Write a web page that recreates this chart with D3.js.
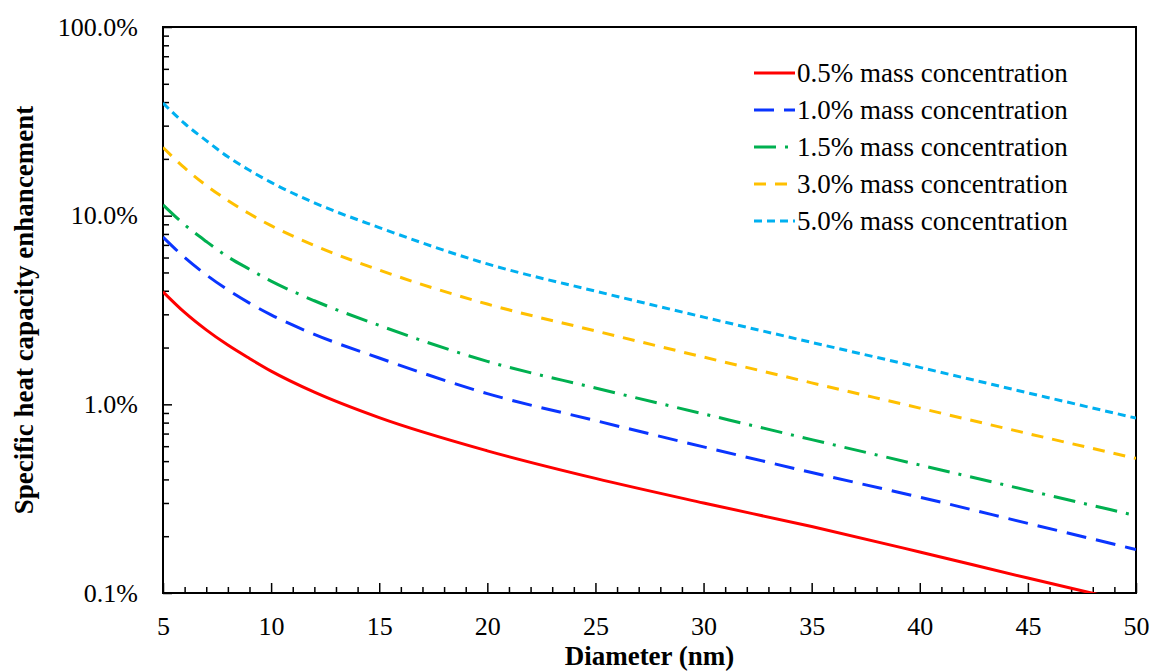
<!DOCTYPE html>
<html lang="en">
	<head>
		<meta charset="UTF-8" />
		<title>Specific heat capacity enhancement</title>
		<style>
			body { margin: 0; background: #fff; }
			svg text { font-family: "Liberation Serif", "Times New Roman", serif; fill: #000; }
		</style>
	</head>
	<body>
		<div id="chart"></div>
		<script src="https://d3js.org/d3.v7.min.js"></script>
		<script>
			const width = 1151;
			const height = 672;

			// diameter (nm)
			const diameters = [5, 6, 7, 8, 9, 10, 12, 15, 20, 25, 30, 35, 40, 45, 50];
			// enhancement in %
			const conc05 = [3.95, 3.07, 2.48, 2.06, 1.75, 1.5, 1.16, 0.85, 0.567, 0.405, 0.30, 0.225, 0.165, 0.12, 0.088];
			const conc10 = [7.7, 6.0, 4.86, 4.04, 3.44, 2.98, 2.35, 1.76, 1.14, 0.82, 0.595, 0.435, 0.322, 0.234, 0.17];
			const conc15 = [11.4, 8.95, 7.3, 6.05, 5.2, 4.5, 3.54, 2.62, 1.69, 1.22, 0.89, 0.65, 0.477, 0.35, 0.257];
			const conc30 = [23, 17.9, 14.46, 12.03, 10.23, 8.85, 6.95, 5.15, 3.4, 2.45, 1.78, 1.3, 0.955, 0.7, 0.517];
			const conc50 = [39.5, 30.8, 25.0, 20.5, 17.4, 15.0, 11.7, 8.65, 5.55, 3.98, 2.9, 2.13, 1.57, 1.15, 0.845];

			const seriesNames = [
				"0.5% mass concentration",
				"1.0% mass concentration",
				"1.5% mass concentration",
				"3.0% mass concentration",
				"5.0% mass concentration",
			];
			const seriesValues = [conc05, conc10, conc15, conc30, conc50];
			const colors = ["#ff0000", "#0a35ff", "#00b050", "#ffc000", "#00b0f0"];
			const dashes = [null, "20,10", "22,9,3,9", "12,9", "8,5"];

			const xTicks = [5, 10, 15, 20, 25, 30, 35, 40, 45, 50];
			const yTicks = [0.1, 1, 10, 100];

			const plotLeft = 163, plotRight = 1136, plotTop = 27, plotBottom = 593;

			const x = d3.scaleLinear().domain([5, 50]).range([plotLeft, plotRight]);
			const y = d3.scaleLog().domain([0.1, 100]).range([plotBottom, plotTop]);

			const svg = d3
				.select("#chart")
				.append("svg")
				.attr("width", width)
				.attr("height", height);

			svg.append("clipPath")
				.attr("id", "plotclip")
				.append("rect")
				.attr("x", plotLeft)
				.attr("y", plotTop)
				.attr("width", plotRight - plotLeft)
				.attr("height", plotBottom - plotTop);

			// minor ticks
			const xMinor = d3.range(6, 50).filter((d) => d % 5 !== 0);
			svg.append("g")
				.attr("transform", `translate(0,${plotBottom})`)
				.call(d3.axisBottom(x).tickValues(xMinor).tickSize(-6).tickFormat(""))
				.call((g) => g.select(".domain").remove())
				.selectAll("line").attr("stroke-width", 1.5);

			const yMinor = [];
			[0.1, 1, 10].forEach((dec) => {
				for (let k = 2; k <= 9; k++) yMinor.push(dec * k);
			});
			svg.append("g")
				.attr("transform", `translate(${plotLeft},0)`)
				.call(d3.axisLeft(y).tickValues(yMinor).tickSize(-6).tickFormat(""))
				.call((g) => g.select(".domain").remove())
				.selectAll("line").attr("stroke-width", 1.5);

			// major axes
			const xAxis = svg.append("g")
				.attr("transform", `translate(0,${plotBottom})`)
				.call(d3.axisBottom(x).tickValues(xTicks).tickSize(-10).tickPadding(23.5));
			xAxis.select(".domain").remove();
			xAxis.selectAll("line").attr("stroke-width", 1.5);
			xAxis.selectAll("text").attr("font-size", 26).style("font-family", "Liberation Serif");

			const yAxis = svg.append("g")
				.attr("transform", `translate(${plotLeft},0)`)
				.call(
					d3.axisLeft(y)
						.tickValues(yTicks)
						.tickSize(-9)
						.tickPadding(25)
						.tickFormat((d) => d.toFixed(1) + "%")
				);
			yAxis.select(".domain").remove();
			yAxis.selectAll("line").attr("stroke-width", 1.5);
			yAxis.selectAll("text").attr("font-size", 26).style("font-family", "Liberation Serif");

			// frame
			svg.append("rect")
				.attr("x", plotLeft)
				.attr("y", plotTop)
				.attr("width", plotRight - plotLeft)
				.attr("height", plotBottom - plotTop)
				.attr("fill", "none")
				.attr("stroke", "#000")
				.attr("stroke-width", 2);

			// lines
			const line = d3
				.line()
				.x((d) => x(d[0]))
				.y((d) => y(d[1]))
				.curve(d3.curveMonotoneX);

			svg.append("g")
				.attr("clip-path", "url(#plotclip)")
				.selectAll("path")
				.data(seriesValues)
				.enter()
				.append("path")
				.attr("d", (vals) => line(diameters.map((d, i) => [d, vals[i]])))
				.attr("fill", "none")
				.attr("stroke", (d, i) => colors[i])
				.attr("stroke-width", 3)
				.attr("stroke-dasharray", (d, i) => dashes[i]);

			// legend
			const legend = svg.append("g").attr("transform", "translate(754,73)");
			const rows = legend
				.selectAll("g")
				.data(seriesNames)
				.enter()
				.append("g")
				.attr("transform", (d, i) => `translate(0,${i * 37})`);
			rows.append("line")
				.attr("x1", 0)
				.attr("x2", 41)
				.attr("stroke", (d, i) => colors[i])
				.attr("stroke-width", 3)
				.attr("stroke-dasharray", (d, i) => dashes[i]);
			rows.append("text")
				.attr("x", 43)
				.attr("dy", "0.34em")
				.attr("font-size", 27)
				.text((d) => d);

			// axis titles
			svg.append("text")
				.attr("x", (plotLeft + plotRight) / 2)
				.attr("y", 665)
				.attr("text-anchor", "middle")
				.attr("font-size", 27)
				.attr("font-weight", "bold")
				.text("Diameter (nm)");

			svg.append("text")
				.attr("transform", `translate(33,${(plotTop + plotBottom) / 2}) rotate(-90)`)
				.attr("text-anchor", "middle")
				.attr("font-size", 27)
				.attr("font-weight", "bold")
				.text("Specific heat capacity enhancement");
		</script>
	</body>
</html>
